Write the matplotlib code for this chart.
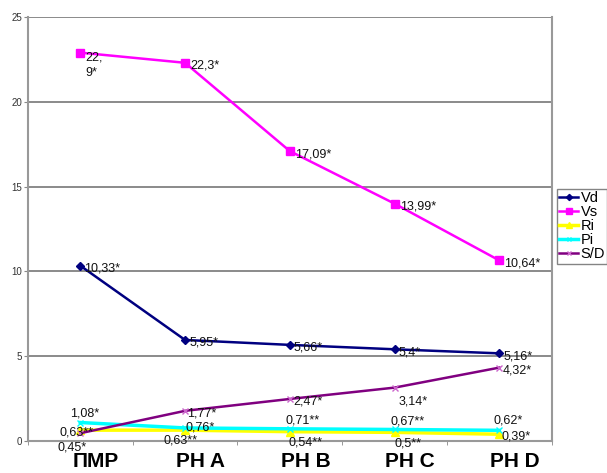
import matplotlib.pyplot as plt
import numpy as np

plt.rcParams['font.family'] = ['Liberation Sans', 'DejaVu Sans']

groups = ['ПМР', 'PH A', 'PH B', 'PH C', 'PH D']
vd = [10.33, 5.95, 5.66, 5.4, 5.16]
vs = [22.9, 22.3, 17.09, 13.99, 10.64]
ri = [0.63, 0.63, 0.54, 0.5, 0.39]
pi = [1.08, 0.76, 0.71, 0.67, 0.62]
sd = [0.45, 1.77, 2.47, 3.14, 4.32]

vd_txt = ['10,33*', '5,95*', '5,66*', '5,4*', '5,16*']
vs_txt = ['22,\n9*', '22,3*', '17,09*', '13,99*', '10,64*']
ri_txt = ['0,63**', '0,63**', '0,54**', '0,5**', '0,39*']
pi_txt = ['1,08*', '0,76*', '0,71**', '0,67**', '0,62*']
sd_txt = ['0,45*', '1,77*', '2,47*', '3,14*', '4,32*']

# label offsets in pixels (dx, dy), text centred on the offset point
pi_off = [(4, 9), (15, 0), (13, 8), (13, 8), (9, 10)]
ri_off = [(-4, -2), (-5, -10), (16, -11), (13, -11), (17, -2)]
sd_off = [(-8, -14), (17, -3), (18, -3), (19, -14), (18, -3)]

x = np.arange(len(groups))

fig = plt.figure(figsize=(6.07, 4.73), dpi=100)
ax = fig.add_axes([0.046, 0.068, 0.863, 0.896])

ax.plot(x, vd, color='#000080', marker='D', ms=4.5, lw=1.8, label='Vd')
ax.plot(x, vs, color='#ff00ff', marker='s', ms=6, lw=1.8, label='Vs')
ax.plot(x, ri, color='#ffff00', marker='^', ms=5.5, lw=2.5, label='Ri')
ax.plot(x, pi, color='#00ffff', marker='x', ms=4, lw=2.5, label='Pi')
ax.plot(x, sd, color='#800080', marker='x', ms=5, mec='#cc66cc', lw=1.8, label='S/D')

lbl = dict(textcoords='offset pixels', fontsize=9, color='#111111', va='center')
for i in range(len(x)):
    ax.annotate(vd_txt[i], (x[i], vd[i]), xytext=(4, -3), ha='left', **lbl)
    ax.annotate(vs_txt[i], (x[i], vs[i]), xytext=(5, -13 if i == 0 else -3),
                ha='left', linespacing=1.4, **lbl)
    ax.annotate(pi_txt[i], (x[i], pi[i]), xytext=pi_off[i], ha='center', **lbl)
    ax.annotate(ri_txt[i], (x[i], ri[i]), xytext=ri_off[i], ha='center', **lbl)
    ax.annotate(sd_txt[i], (x[i], sd[i]), xytext=sd_off[i], ha='center', **lbl)

ax.set_xlim(-0.5, 4.5)
ax.set_ylim(0, 25)
ax.set_yticks([0, 5, 10, 15, 20, 25])
ax.set_yticklabels(['0', '5', '10', '15', '20', '25'], fontsize=7, color='#333333')
# group names sit a little right of the data points
ax.set_xticks(x + 0.15)
ax.set_xticklabels(groups, fontsize=15, fontweight='bold')
ax.set_xticks(np.arange(-0.5, 5, 1), minor=True)
ax.tick_params(axis='x', which='major', length=0, pad=8)
ax.tick_params(axis='x', which='minor', length=3, color='#888888')
ax.tick_params(axis='y', length=3, color='#888888', pad=1)
ax.grid(axis='y', color='#777777', lw=1.2)
ax.set_axisbelow(True)
for side in ['left', 'bottom', 'right']:
    ax.spines[side].set_color('#999999')
    ax.spines[side].set_linewidth(1.5)
ax.spines['top'].set_visible(False)

leg = ax.legend(loc='upper left', bbox_to_anchor=(0.918, 0.6), bbox_transform=fig.transFigure,
                fontsize=10.5, frameon=True, fancybox=False, handlelength=1.3, handletextpad=0.15,
                labelspacing=0.0, borderpad=0.15, borderaxespad=0, markerscale=0.7)
leg.get_frame().set_edgecolor('#666666')
leg.get_frame().set_linewidth(1)

fig.savefig('out.png', dpi=100)
